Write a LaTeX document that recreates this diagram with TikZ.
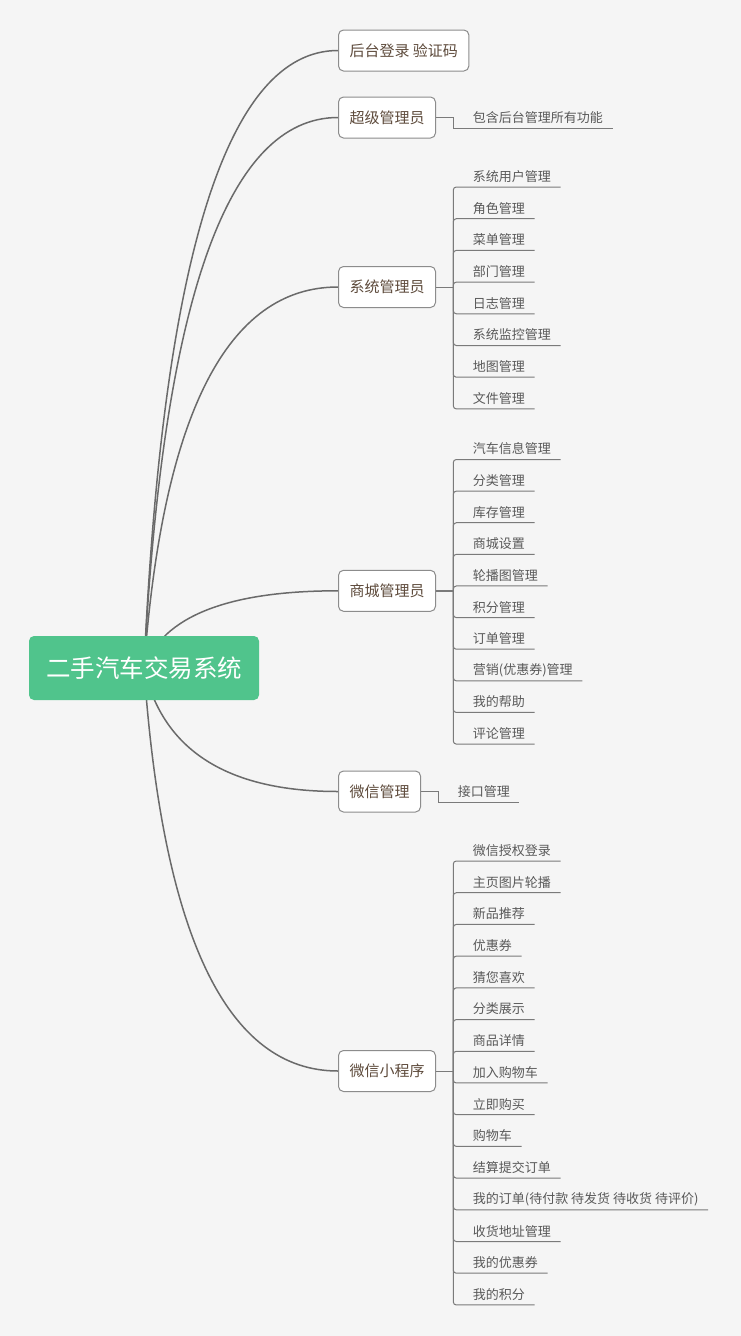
\documentclass[tikz,border=0pt]{standalone}
\usepackage{fontspec}
\setmainfont{Noto Sans CJK SC}
\usetikzlibrary{calc}
\pgfdeclarelayer{bg}
\pgfdeclarelayer{edges}
\pgfsetlayers{bg,edges,main}
\definecolor{bgc}{HTML}{F5F5F5}
\definecolor{rootc}{HTML}{50C48C}
\definecolor{linec}{HTML}{6A6A6A}
\definecolor{leafc}{HTML}{7A7A7A}
\definecolor{topictext}{HTML}{5E4B3C}
\definecolor{leaftext}{HTML}{595959}
\definecolor{topicborder}{HTML}{8C8C8C}
\begin{document}
\begin{tikzpicture}[x=1pt,y=-1pt,
  rootnode/.style={fill=rootc, rounded corners=5pt, minimum width=230pt, minimum height=64pt, text=white, font=\fontsize{24.5}{28}\selectfont, inner sep=0pt},
  topic/.style={draw=topicborder, line width=1pt, fill=white, rounded corners=5pt, minimum height=41pt, inner xsep=11pt, inner ysep=0pt, anchor=west, text=topictext, font=\fontsize{15}{18}\selectfont},
  leaf/.style={anchor=west, inner sep=0pt, text=leaftext, font=\fontsize{13}{16}\selectfont},
  branch/.style={draw=linec, line width=1.5pt},
  leafline/.style={draw=leafc, line width=1pt, rounded corners=3pt},
  leafsharp/.style={draw=leafc, line width=1pt},
]
\begin{pgfonlayer}{bg}
  \fill[bgc] (0,0) rectangle (741,1336);
\end{pgfonlayer}
\useasboundingbox (0,0) rectangle (741,1336);

\node[rootnode] (root) at (144,668) {二手汽车交易系统};

\node[topic] (t1) at (338,50.5) {后台登录 验证码};
\node[topic] (t2) at (338,117.5) {超级管理员};
\node[topic] (t3) at (338,287) {系统管理员};
\node[topic] (t4) at (338,590.8) {商城管理员};
\node[topic] (t5) at (338,791.5) {微信管理};
\node[topic] (t6) at (338,1071) {微信小程序};

\coordinate (cx) at (172,0);
\coordinate (jx) at (453.3,0);
\coordinate (jy) at (438,0);

\begin{pgfonlayer}{edges}
\foreach \tp in {t1,t2,t3,t4,t5,t6}{
  \draw[branch] (root.center) .. controls ($(root.center)!0.6667!(\tp.west -| cx)$) and ($(\tp.west)!0.6667!(\tp.west -| cx)$) .. (\tp.west);
}
\end{pgfonlayer}

% 超级管理员
\node[leaf] (sp) at (472.7,117.7) {包含后台管理所有功能};
\draw[leafsharp] (t2.east) -- (t2.east -| jx) |- ($(sp.east)+(10,10.6)$);

% 系统管理员
\draw[leafline] (t3.east) -- (t3.east -| jx);
\foreach \txt [count=\k from 0] in {系统用户管理,角色管理,菜单管理,部门管理,日志管理,系统监控管理,地图管理,文件管理}{
  \node[leaf] (sa\k) at (472.7,{176.5+31.7*\k}) {\txt};
  \draw[leafline] (t3.east -| jx) |- ($(sa\k.east)+(9.5,10.5)$);
}

% 商城管理员
\draw[leafline, line width=1.6pt] (t4.east) -- (t4.east -| jx);
\foreach \txt [count=\k from 0] in {汽车信息管理,分类管理,库存管理,商城设置,轮播图管理,积分管理,订单管理,{营销(优惠券)管理},我的帮助,评论管理}{
  \node[leaf] (sm\k) at (472.7,{449+31.62*\k}) {\txt};
  \draw[leafline] (t4.east -| jx) |- ($(sm\k.east)+(9.5,10.5)$);
}

% 微信管理
\node[leaf] (wx) at (457.7,791.7) {接口管理};
\draw[leafsharp] (t5.east) -- (t5.east -| jy) |- ($(wx.east)+(9.3,10.6)$);

% 微信小程序
\draw[leafline] (t6.east) -- (t6.east -| jx);
\foreach \txt [count=\k from 0] in {微信授权登录,主页图片轮播,新品推荐,优惠券,猜您喜欢,分类展示,商品详情,加入购物车,立即购买,购物车,结算提交订单,{我的订单(待付款 待发货 待收货 待评价)},收货地址管理,我的优惠券,我的积分}{
  \node[leaf] (mp\k) at (472.7,{850.5+31.71*\k}) {\txt};
  \draw[leafline] (t6.east -| jx) |- ($(mp\k.east)+(9.5,10.5)$);
}
\end{tikzpicture}
\end{document}
